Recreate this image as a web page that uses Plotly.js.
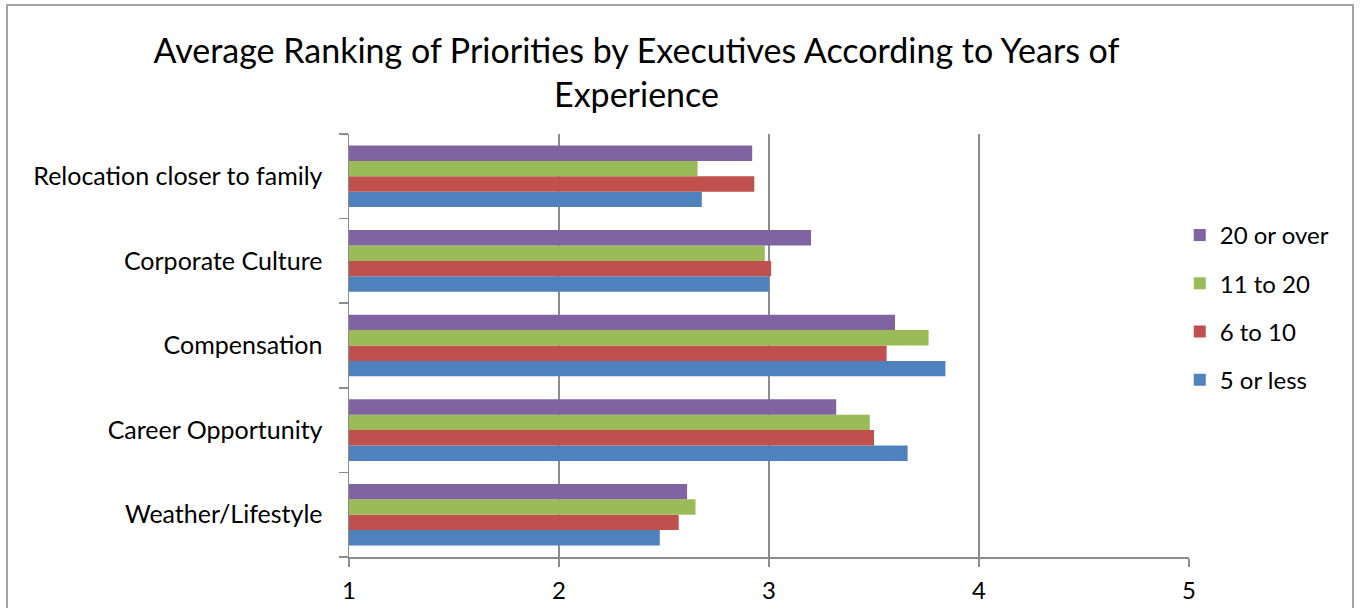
<!DOCTYPE html>
<html>
<head>
<meta charset="utf-8">
<script src="https://cdn.plot.ly/plotly-3.0.1.min.js"></script>
<style>
  html, body { margin: 0; padding: 0; background: #fff; }
  #chart { width: 1360px; height: 608px; }
  #frame { position: absolute; left: 6px; top: 4px; width: 1348px; height: 700px;
           border: 2px solid #a3a3a3; pointer-events: none; box-sizing: border-box; }
</style>
</head>
<body>
<div id="chart"></div>
<div id="frame"></div>
<script>
// Categories (bottom to top)
const categories = ['Weather/Lifestyle', 'Career Opportunity', 'Compensation', 'Corporate Culture', 'Relocation closer to family'];
// Series values, same order as categories
const fiveOrLess = [2.48, 3.66, 3.84, 3.00, 2.68];
const sixToTen   = [2.57, 3.50, 3.56, 3.01, 2.93];
const elevenTo20 = [2.65, 3.48, 3.76, 2.98, 2.66];
const twentyPlus = [2.61, 3.32, 3.60, 3.20, 2.92];
const seriesNames = ['5 or less', '6 to 10', '11 to 20', '20 or over'];
const xTicks = [1, 2, 3, 4, 5];

const colors = ['#4F81BD', '#C0504D', '#9BBB59', '#8064A2'];
const seriesValues = [fiveOrLess, sixToTen, elevenTo20, twentyPlus];
const FONT = 'Lato, "Open Sans", sans-serif';

const traces = seriesValues.map((vals, i) => ({
  type: 'bar',
  orientation: 'h',
  name: seriesNames[i],
  legendgroup: seriesNames[i],
  legendrank: 100 - i,
  y: categories,
  x: vals.map(v => v - 1),
  base: 1,
  marker: { color: colors[i], line: { width: 0 } },
  hoverinfo: 'x+y+name'
}));

const layout = {
  width: 1360, height: 608,
  margin: { l: 349, r: 171, t: 134, b: 51, pad: 0 },
  paper_bgcolor: '#ffffff', plot_bgcolor: '#ffffff',
  font: { family: FONT, color: '#000000', size: 22 },
  title: {
    text: 'Average Ranking of Priorities by Executives According to Years of<br>Experience',
    font: { family: FONT, size: 34, color: '#000000' },
    xref: 'container', x: 0.468, xanchor: 'center',
    yref: 'container', y: 0.897, yanchor: 'top'
  },
  barmode: 'group',
  bargap: 0.272,
  bargroupgap: 0,
  xaxis: {
    range: [1, 5], tickvals: xTicks, ticktext: xTicks.map(String),
    showgrid: true, gridcolor: '#8c8c8c', gridwidth: 1.5,
    zeroline: false, showline: true, linecolor: '#8c8c8c', linewidth: 1.5,
    ticks: 'outside', ticklen: 8, tickcolor: '#8c8c8c', tickwidth: 1.5,
    tickfont: { family: FONT, size: 24, color: '#000' },
    ticklabelstandoff: 4,
    fixedrange: true
  },
  yaxis: {
    type: 'category', categoryorder: 'array', categoryarray: categories,
    showgrid: false, zeroline: false, showline: true, linecolor: '#8c8c8c', linewidth: 1.5,
    ticks: 'outside', tickson: 'boundaries', ticklen: 9, tickcolor: '#8c8c8c', tickwidth: 1.5,
    tickfont: { family: FONT, size: 25, color: '#000' },
    ticklabelstandoff: 20,
    fixedrange: true
  },
  legend: {
    x: 0.989, xanchor: 'left', y: 0.59, yanchor: 'middle',
    traceorder: 'grouped', tracegroupgap: 14,
    font: { family: FONT, size: 24, color: '#000' },
    bgcolor: 'rgba(0,0,0,0)'
  },
  showlegend: true
};

Plotly.newPlot('chart', traces, layout, { displayModeBar: false, staticPlot: true });
</script>
</body>
</html>
